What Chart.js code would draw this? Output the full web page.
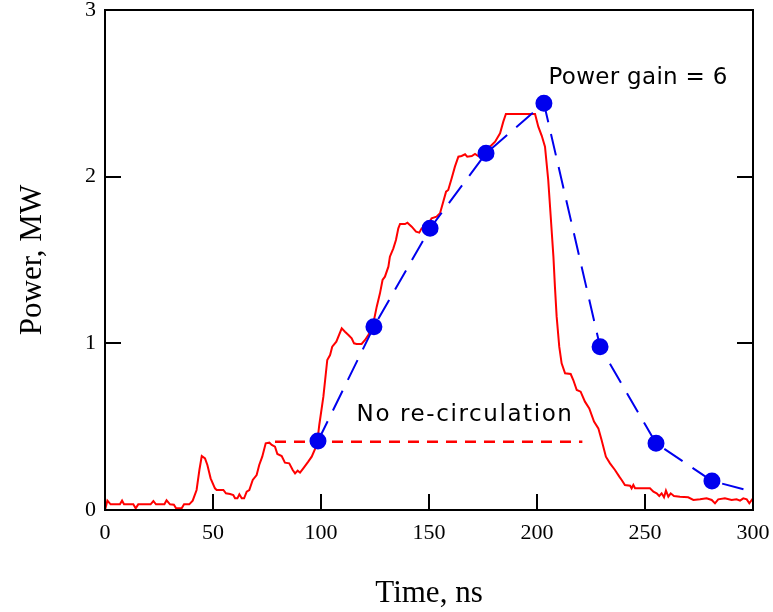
<!DOCTYPE html>
<html>
<head>
<meta charset="utf-8">
<script src="https://cdn.jsdelivr.net/npm/chart.js@4"></script>
<style>
  html, body { margin: 0; padding: 0; background: #fff; }
  #wrap { width: 773px; height: 612px; }
</style>
</head>
<body>
<div id="wrap"><canvas id="c" width="773" height="612"></canvas></div>
<script>
// ========== DATA ==========

// measured output power (red trace)
const redTime = [0, 1.1, 2.6, 6.9, 7.9, 8.8, 13.1, 14.2, 15.4, 21.1, 22.4, 23.6, 27.5, 28.5, 30.1, 31.9, 32.9, 35.5, 36.6, 39.0,
    40.6, 42.4, 43.7, 44.8, 46.3, 47.4, 48.9, 50.9, 51.7, 54.8, 56.0, 57.9, 59.4, 60.2, 61.3, 62.2, 63.3, 64.4, 65.6, 66.8,
    68.4, 70.2, 71.4, 72.8, 74.4, 76.1, 77.2, 78.7, 79.8, 81.8, 83.3, 85.3, 86.9, 88.0, 89.2, 90.3, 91.8, 94.1, 95.7, 97.7,
    98.3, 99.2, 101.1, 102.9, 104.2, 105.2, 107.1, 109.6, 111.1, 112.7, 114.2, 115.3, 116.5, 118.8, 120.4, 121.9, 123.9, 125.8, 127.3, 128.5,
    129.6, 131.2, 131.9, 133.5, 134.7, 135.8, 136.6, 138.9, 140.0, 142.0, 144.0, 145.5, 146.6, 148.9, 151.2, 153.5, 155.1, 156.6, 157.9, 158.9,
    160.5, 162.0, 163.6, 165.1, 166.7, 167.7, 169.8, 171.3, 172.8, 175.1, 178.2, 180.6, 182.9, 184.4, 185.6, 199.1, 200.6, 202.2, 203.7, 205.2,
    206.3, 207.6, 208.3, 209.1, 210.3, 211.4, 213.0, 215.6, 216.8, 218.4, 220.2, 222.2, 224.2, 226.4, 228.4, 229.9, 231.9, 233.8, 236.1, 238.1,
    239.2, 240.7, 243.1, 243.8, 244.6, 245.4, 252.3, 253.9, 255.4, 256.6, 257.7, 258.8, 259.7, 260.8, 261.9, 263.4, 266.2, 270.0, 272.4, 275.5,
    278.5, 280.9, 282.4, 283.9, 287.0, 290.1, 292.4, 294.0, 295.5, 297.1, 298.3, 299.4, 300];
const redPower = [0.00, 0.056, 0.034, 0.034, 0.056, 0.034, 0.034, 0.010, 0.034, 0.034, 0.054, 0.034, 0.034, 0.058, 0.034, 0.032, 0.010, 0.010, 0.034, 0.034,
    0.056, 0.12, 0.24, 0.324, 0.31, 0.27, 0.19, 0.13, 0.12, 0.12, 0.10, 0.096, 0.09, 0.07, 0.07, 0.094, 0.07, 0.07, 0.11, 0.12,
    0.18, 0.21, 0.27, 0.32, 0.40, 0.404, 0.39, 0.38, 0.336, 0.324, 0.284, 0.28, 0.24, 0.22, 0.236, 0.224, 0.25, 0.29, 0.32, 0.38,
    0.41, 0.51, 0.68, 0.90, 0.93, 0.98, 1.01, 1.09, 1.07, 1.05, 1.03, 1.00, 0.996, 0.996, 1.02, 1.05, 1.10, 1.22, 1.30, 1.38,
    1.40, 1.46, 1.52, 1.57, 1.62, 1.69, 1.716, 1.716, 1.724, 1.70, 1.67, 1.664, 1.69, 1.696, 1.75, 1.76, 1.78, 1.85, 1.91, 1.92,
    1.99, 2.06, 2.12, 2.124, 2.134, 2.12, 2.124, 2.136, 2.124, 2.14, 2.18, 2.21, 2.26, 2.33, 2.376, 2.376, 2.30, 2.245, 2.18, 1.98,
    1.77, 1.52, 1.34, 1.16, 0.98, 0.88, 0.82, 0.816, 0.78, 0.72, 0.71, 0.65, 0.61, 0.53, 0.49, 0.42, 0.32, 0.28, 0.24, 0.20,
    0.18, 0.15, 0.146, 0.13, 0.15, 0.13, 0.13, 0.11, 0.10, 0.084, 0.10, 0.076, 0.116, 0.08, 0.10, 0.084, 0.08, 0.076, 0.06, 0.064,
    0.07, 0.06, 0.04, 0.064, 0.07, 0.06, 0.064, 0.056, 0.07, 0.064, 0.04, 0.06, 0.07];

// simulated power with re-circulation (blue)
const blueTime = [98.6, 124.5, 150.5, 176.4, 203.2, 229.2, 255.1, 281.0, 300];
const bluePower = [0.414, 1.10, 1.69, 2.14, 2.44, 0.98, 0.40, 0.174, 0.11];

// level without re-circulation
const noRecircTime = [78.7, 221];
const noRecircPower = [0.41, 0.41];

const xTicks = [0, 50, 100, 150, 200, 250, 300];
const yTicks = [0, 1, 2, 3];

const noteText = ['Power gain = 6', 'No re-circulation'];
const noteX = [246.8, 166.7];
const noteY = [2.59, 0.57];

const zip = (xs, ys) => xs.map((x, i) => ({ x: x, y: ys[i] }));

// ========== FRAME, INSIDE TICKS, NOTES ==========

const noteStyle = [
    { font: '23px "DejaVu Sans"', spacing: '0.3px' },
    { font: '23px "DejaVu Sans"', spacing: '1.6px' }
];

const framePlugin = {
    id: 'frame',
    afterDatasetsDraw(chart) {
        const { ctx, chartArea: a, scales: { x, y } } = chart;
        ctx.save();
        ctx.strokeStyle = '#000';
        ctx.lineWidth = 2;
        ctx.strokeRect(a.left, a.top, a.right - a.left, a.bottom - a.top);
        const len = 16;
        ctx.beginPath();
        xTicks.slice(1, -1).forEach(v => {
            const px = Math.round(x.getPixelForValue(v));
            ctx.moveTo(px, a.bottom); ctx.lineTo(px, a.bottom - len);
        });
        yTicks.slice(1, -1).forEach(v => {
            const py = Math.round(y.getPixelForValue(v));
            ctx.moveTo(a.left, py); ctx.lineTo(a.left + len, py);
            ctx.moveTo(a.right, py); ctx.lineTo(a.right - len, py);
        });
        ctx.stroke();

        ctx.fillStyle = '#000';
        ctx.textAlign = 'center';
        ctx.textBaseline = 'middle';
        noteText.forEach((t, i) => {
            ctx.font = noteStyle[i].font;
            ctx.letterSpacing = noteStyle[i].spacing;
            ctx.fillText(t, x.getPixelForValue(noteX[i]), y.getPixelForValue(noteY[i]));
        });
        ctx.restore();
    }
};

const serif = '"Liberation Serif", "Times New Roman", serif';

new Chart(document.getElementById('c'), {
    type: 'scatter',
    data: {
        datasets: [
            { data: zip(blueTime, bluePower), showLine: true, borderColor: '#0000ee', backgroundColor: '#0000ee', borderWidth: 2,
              borderDash: [22, 12], pointRadius: blueTime.map((t, i) => i === blueTime.length - 1 ? 0 : 7.5), pointHoverRadius: 0, order: 1 },
            { data: zip(redTime, redPower), showLine: true, borderColor: '#ff0000', borderWidth: 2, pointRadius: 0, tension: 0, order: 2 },
            { data: zip(noRecircTime, noRecircPower), showLine: true, borderColor: '#ff0000', borderWidth: 2.5, borderDash: [11, 8], pointRadius: 0, order: 3 }
        ]
    },
    options: {
        responsive: false, animation: false,
        layout: { padding: { top: 10, right: 20, left: 0, bottom: 0 } },
        plugins: { legend: { display: false }, tooltip: { enabled: false } },
        scales: {
            x: {
                type: 'linear', min: 0, max: 300,
                afterBuildTicks: s => { s.ticks = xTicks.map(v => ({ value: v })); },
                afterFit: s => { s.height = 102; s.paddingLeft = 0; s.paddingRight = 0; },
                grid: { display: false, drawTicks: false },
                border: { display: false },
                ticks: { padding: 10, color: '#000', font: { family: serif, size: 22 }, maxRotation: 0 },
                title: { display: true, text: 'Time, ns', color: '#000', font: { family: serif, size: 31 }, padding: { top: 0, bottom: 0 } }
            },
            y: {
                min: 0, max: 3,
                afterBuildTicks: s => { s.ticks = yTicks.map(v => ({ value: v })); },
                afterFit: s => { s.width = 105; s.paddingTop = 0; s.paddingBottom = 0; },
                grid: { display: false, drawTicks: false },
                border: { display: false },
                ticks: { padding: 9, color: '#000', font: { family: serif, size: 22 } },
                title: { display: true, text: 'Power, MW', color: '#000', font: { family: serif, size: 31 }, padding: { top: 14, bottom: 0 } }
            }
        }
    },
    plugins: [framePlugin]
});
</script>
</body>
</html>
